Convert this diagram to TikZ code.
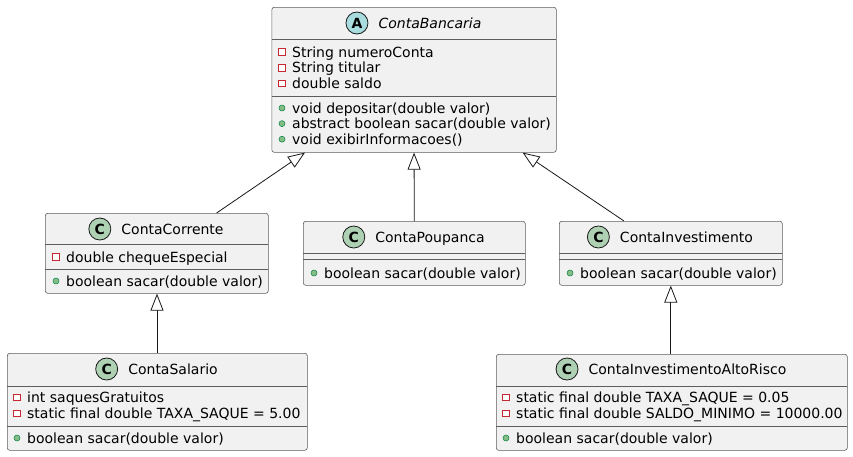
\documentclass[tikz,border=0pt]{standalone}
\usepackage{fontspec}
\setmainfont{DejaVu Sans}
\usetikzlibrary{arrows.meta, positioning, calc}
\definecolor{colBox}{HTML}{F1F1F1}
\definecolor{colBdr}{HTML}{181818}
\definecolor{colIconC}{HTML}{ADD1B2}
\definecolor{colIconA}{HTML}{A9DCDF}
\definecolor{colPriv}{HTML}{C82930}
\definecolor{colPubF}{HTML}{84BE84}
\definecolor{colPubB}{HTML}{038048}
\tikzset{
	classbox/.style={draw=colBdr!70, fill=colBox, line width=0.6pt, rounded corners=2.5pt,
		anchor=north west, inner sep=0pt},
	sepline/.style={draw=colBdr!70, line width=0.6pt},
	title/.style={inner sep=0pt, text height=10.2pt, text depth=0pt, font=\fontsize{14}{16}\selectfont},
	member/.style={inner sep=0pt, anchor=west, text height=10.2pt, text depth=0pt, font=\fontsize{14}{16}\selectfont},
	iconC/.style={circle, draw=colBdr, fill=colIconC, line width=0.8pt, minimum size=22pt, inner sep=0pt,
		font=\fontsize{14}{14}\selectfont\bfseries},
	iconA/.style={iconC, fill=colIconA},
	priv/.style={draw=colPriv, fill=white, line width=0.6pt, minimum size=6.5pt, inner sep=0pt},
	pub/.style={circle, draw=colPubB, fill=colPubF, line width=0.5pt, minimum size=6pt, inner sep=0pt},
	inherit/.style={draw=colBdr, line width=0.8pt, -{Triangle[open, length=17pt, width=13pt, fill=white]}}
}

\begin{document}
\begin{tikzpicture}[x=1pt, y=-1pt]
		\useasboundingbox[fill=white] (0,0) rectangle (853,456);
		% ContaBancaria
		\node[classbox, minimum width=284.5pt, minimum height=145pt] (cb) at (271.5,7) {};
		\draw[sepline] (271.5,39.5) -- (556,39.5);
		\draw[sepline] (271.5,96) -- (556,96);
		\node[title, font=\fontsize{14}{16}\selectfont\itshape] (cbT) at (430,23) {ContaBancaria};
		\node[iconA, left=10pt of cbT] (cbI) {A};
		\foreach \t [count=\i] in {String numeroConta, String titular, double saldo}{
			\node[priv] (cbp\i) at (282,36.4+15.6*\i) {};
			\node[member] (cba\i) at (292,36.4+15.6*\i) {\t};
		}
		\foreach \t [count=\i] in {void depositar(double valor), abstract boolean sacar(double valor), void exibirInformacoes()}{
			\node[pub] (cbq\i) at (282,92.4+15.6*\i) {};
			\node[member] (cbm\i) at (292,92.4+15.6*\i) {\t};
		}
		% ContaCorrente
		\node[classbox, minimum width=223pt, minimum height=80pt] (cc) at (45,213) {};
		\draw[sepline] (45,244) -- (268,244);
		\draw[sepline] (45,269) -- (268,269);
		\node[title] (ccT) at (172.5,229) {ContaCorrente};
		\node[iconC, left=10pt of ccT] (ccI) {C};
		\node[priv] (ccp1) at (56,257) {};
		\node[member] (cca1) at (66,257) {double chequeEspecial};
		\node[pub] (ccq1) at (56,281) {};
		\node[member] (ccm1) at (66,281) {boolean sacar(double valor)};
		% ContaPoupanca
		\node[classbox, minimum width=222pt, minimum height=64pt] (cp) at (303,221) {};
		\draw[sepline] (303,253) -- (525,253);
		\draw[sepline] (303,259) -- (525,259);
		\node[title] (cpT) at (430,237) {ContaPoupanca};
		\node[iconC, left=10pt of cpT] (cpI) {C};
		\node[pub] (cpq1) at (314,273) {};
		\node[member] (cpm1) at (324,273) {boolean sacar(double valor)};
		% ContaInvestimento
		\node[classbox, minimum width=223pt, minimum height=64pt] (ci) at (559,221) {};
		\draw[sepline] (559,253) -- (782,253);
		\draw[sepline] (559,259) -- (782,259);
		\node[title] (ciT) at (686.5,237) {ContaInvestimento};
		\node[iconC, left=10pt of ciT] (ciI) {C};
		\node[pub] (ciq1) at (570,273) {};
		\node[member] (cim1) at (580,273) {boolean sacar(double valor)};
		% ContaSalario
		\node[classbox, minimum width=300pt, minimum height=97pt] (cs) at (7,353) {};
		\draw[sepline] (7,386) -- (307,386);
		\draw[sepline] (7,426) -- (307,426);
		\node[title] (csT) at (173,369) {ContaSalario};
		\node[iconC, left=10pt of csT] (csI) {C};
		\foreach \t [count=\i] in {int saquesGratuitos, static final double TAXA\_SAQUE = 5.00}{
			\node[priv] (csp\i) at (17,381.4+16*\i) {};
			\node[member] (csa\i) at (27,381.4+16*\i) {\t};
		}
		\node[pub] (csq1) at (17,438) {};
		\node[member] (csm1) at (27,438) {boolean sacar(double valor)};
		% ContaInvestimentoAltoRisco
		\node[classbox, minimum width=351pt, minimum height=96pt] (ca) at (496,354) {};
		\draw[sepline] (496,386) -- (847,386);
		\draw[sepline] (496,426) -- (847,426);
		\node[title] (caT) at (687.5,369) {ContaInvestimentoAltoRisco};
		\node[iconC, left=10pt of caT] (caI) {C};
		\foreach \t [count=\i] in {static final double TAXA\_SAQUE = 0.05, static final double SALDO\_MINIMO = 10000.00}{
			\node[priv] (cap\i) at (506,381.4+16*\i) {};
			\node[member] (caa\i) at (516,381.4+16*\i) {\t};
		}
		\node[pub] (caq1) at (506,438) {};
		\node[member] (cam1) at (516,438) {boolean sacar(double valor)};
		% heranca
		\draw[inherit] ([xshift=-52pt]cc.north east) -- ([xshift=33.5pt]cb.south west);
		\draw[inherit] (cp.north) -- (cb.south);
		\draw[inherit] ([xshift=65pt]ci.north west) -- ([xshift=-34pt]cb.south east);
		\draw[inherit] ([xshift=157pt-7pt]cs.north west) -- ([xshift=157pt-45pt]cc.south west);
		\draw[inherit] (ca.north -| ci.center) -- (ci.south);
\end{tikzpicture}
\end{document}
